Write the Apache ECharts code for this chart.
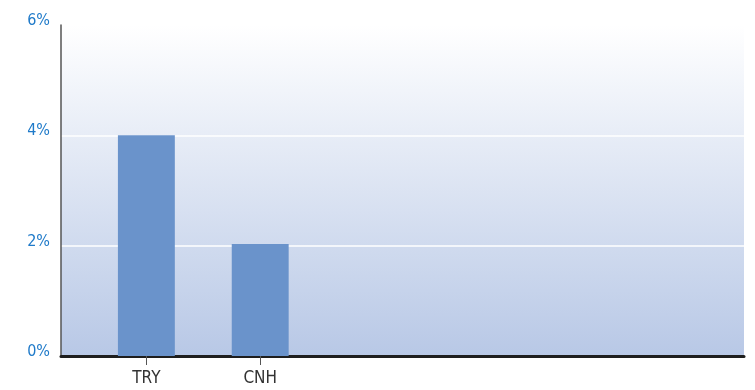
<!DOCTYPE html>
<html><head><meta charset="utf-8">
<script src="https://cdn.jsdelivr.net/npm/echarts@6/dist/echarts.min.js"></script>
<style>html,body{margin:0;padding:0;background:#fff}#c{width:755px;height:390px}</style>
</head><body><div id="c"></div>
<script>
const categories = ['', 'TRY', '', 'CNH', '', '', '', '', '', '', '', ''];
const values = [null, 4.0, null, 2.03, null, null, null, null, null, null, null, null];
const yTicks = [0, 2, 4, 6];

const chart = echarts.init(document.getElementById('c'), null, {renderer: 'canvas'});
chart.setOption({
  animation: false,
  grid: {
    left: 61, right: 11, top: 25, bottom: 34,
    show: true, borderWidth: 0,
    backgroundColor: new echarts.graphic.LinearGradient(0, 0, 0, 1, [
      {offset: 0, color: '#ffffff'},
      {offset: 1, color: '#b8c8e6'}
    ])
  },
  xAxis: {
    type: 'category',
    data: categories,
    axisLine: {show: true, lineStyle: {color: '#1e1e1e', width: 3}},
    axisTick: {show: true, alignWithLabel: true, length: 9, lineStyle: {color: '#555', width: 1},
      interval: (i, v) => v !== ''},
    axisLabel: {color: '#333', fontSize: 17, fontFamily: 'DejaVu Sans Condensed', margin: 14, interval: 0},
    splitLine: {show: false}
  },
  yAxis: {
    type: 'value',
    min: yTicks[0], max: yTicks[yTicks.length - 1], interval: 2,
    axisLine: {show: true, lineStyle: {color: '#555', width: 1.5}},
    axisTick: {show: false},
    axisLabel: {color: '#1f7ac9', fontSize: 16, fontFamily: 'DejaVu Sans Condensed', margin: 11,
      formatter: v => v + '%', verticalAlign: 'bottom', lineHeight: 8},
    splitLine: {show: true, lineStyle: {color: '#ffffff', width: 1.5}}
  },
  series: [{
    type: 'bar',
    data: values,
    barWidth: '100%',
    itemStyle: {color: '#6a93cb'}
  }]
});
</script></body></html>
